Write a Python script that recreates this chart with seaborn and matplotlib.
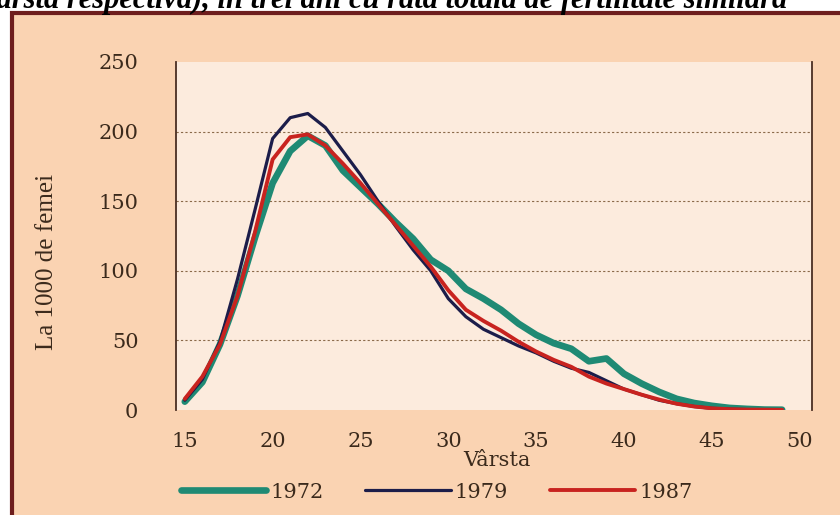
import matplotlib
matplotlib.use("Agg")
import matplotlib.pyplot as plt
import seaborn as sns
import pandas as pd
from matplotlib.patches import Rectangle

ages = list(range(15, 50))
rate_1972 = [6, 20, 47, 82, 124, 163, 186, 197, 190, 172, 160, 148, 135, 123, 108, 100,
             87, 80, 72, 62, 54, 48, 44, 35, 37, 26, 19, 13, 8, 5, 3, 1.5, 0.8, 0.3, 0.2]
rate_1979 = [7, 22, 49, 94, 144, 195, 210, 213, 203, 186, 169, 150, 132, 115, 100, 80,
             67, 58, 52, 46, 41, 35, 30, 27, 21, 15, 11, 7, 4.5, 2.5, 1.2, 0.6, 0.3, 0.2, 0.1]
rate_1987 = [8, 24, 47, 82, 128, 180, 196, 198, 190, 177, 163, 148, 133, 118, 103, 86,
             72, 64, 57, 49, 42, 36, 31, 24, 19, 15, 11, 7.5, 4.5, 2.5, 1.2, 0.6, 0.3, 0.2, 0.1]
years = ["1972", "1979", "1987"]
y_ticks = [0, 50, 100, 150, 200, 250]
x_ticks = [15, 20, 25, 30, 35, 40, 45, 50]

df = pd.DataFrame({
    "Vârsta": ages * 3,
    "rata": rate_1972 + rate_1979 + rate_1987,
    "an": [y for y in years for _ in ages],
})

colors = {"1972": "#1f8a74", "1979": "#1c1d4a", "1987": "#c8231f"}
widths = {"1972": 4.8, "1979": 2.3, "1987": 2.8}
txt = "#3b2a1c"
serif = ["DejaVu Serif"]

sns.set_style("white")
fig = plt.figure(figsize=(8.4, 5.15), dpi=100)
fig.patch.set_facecolor("white")

# outer frame, behind the axes
fig.patches.append(Rectangle((12 / 840, -0.05), 1.0, 1 - 13 / 515 + 0.05, transform=fig.transFigure,
                             facecolor="#fad3b2", edgecolor="#6e1e1e", linewidth=3, zorder=-5))

# title line cut off at the top edge, as in the source
fig.text(-0.02, 1 - 8 / 515, "vârstă respectivă), în trei ani cu rată totală de fertilitate similară",
         fontsize=22, fontweight="bold", fontstyle="italic", family=["Liberation Serif"],
         va="baseline", ha="left", color="black")

ax = fig.add_axes([176 / 840, 1 - 410 / 515, (812 - 176) / 840, (410 - 62) / 515])
ax.set_facecolor("#fcebdd")

for yr in years:
    sns.lineplot(data=df[df["an"] == yr], x="Vârsta", y="rata", ax=ax, color=colors[yr],
                 linewidth=widths[yr], label=yr, zorder=3)

ax.set_xlim(14.5, 50.7)
ax.set_ylim(0, 250)
ax.set_xticks(x_ticks)
ax.set_yticks(y_ticks)
ax.set_xticklabels([str(v) for v in x_ticks], fontsize=15, color=txt, family=serif)
ax.set_yticklabels([str(v) for v in y_ticks], fontsize=15, color=txt, family=serif)
ax.tick_params(axis="y", length=0, pad=27)
ax.tick_params(axis="x", length=0, pad=16)
for v in y_ticks[1:-1]:
    ax.axhline(v, color="#8b6a4a", linestyle=(0, (2, 2)), linewidth=0.8, zorder=1)

for s in ["top", "bottom"]:
    ax.spines[s].set_visible(False)
for s in ["left", "right"]:
    ax.spines[s].set_color("#4a2e22")
    ax.spines[s].set_linewidth(1.3)

ax.set_xlabel("Vârsta", fontsize=15, color=txt, family=serif, va="top")
ax.set_ylabel("La 1000 de femei", fontsize=18, color=txt, family=["Liberation Serif"])
ax.xaxis.set_label_coords(0.505, -0.118)
ax.yaxis.set_label_coords(-0.185, 0.425)

leg = ax.legend(loc="center", bbox_to_anchor=(0.41, -0.236), ncol=3, frameon=False,
                handlelength=4.1, handletextpad=0.2, columnspacing=2.0,
                prop={"family": serif, "size": 15})
for t in leg.get_texts():
    t.set_color(txt)

fig.savefig("out.png", dpi=100)
